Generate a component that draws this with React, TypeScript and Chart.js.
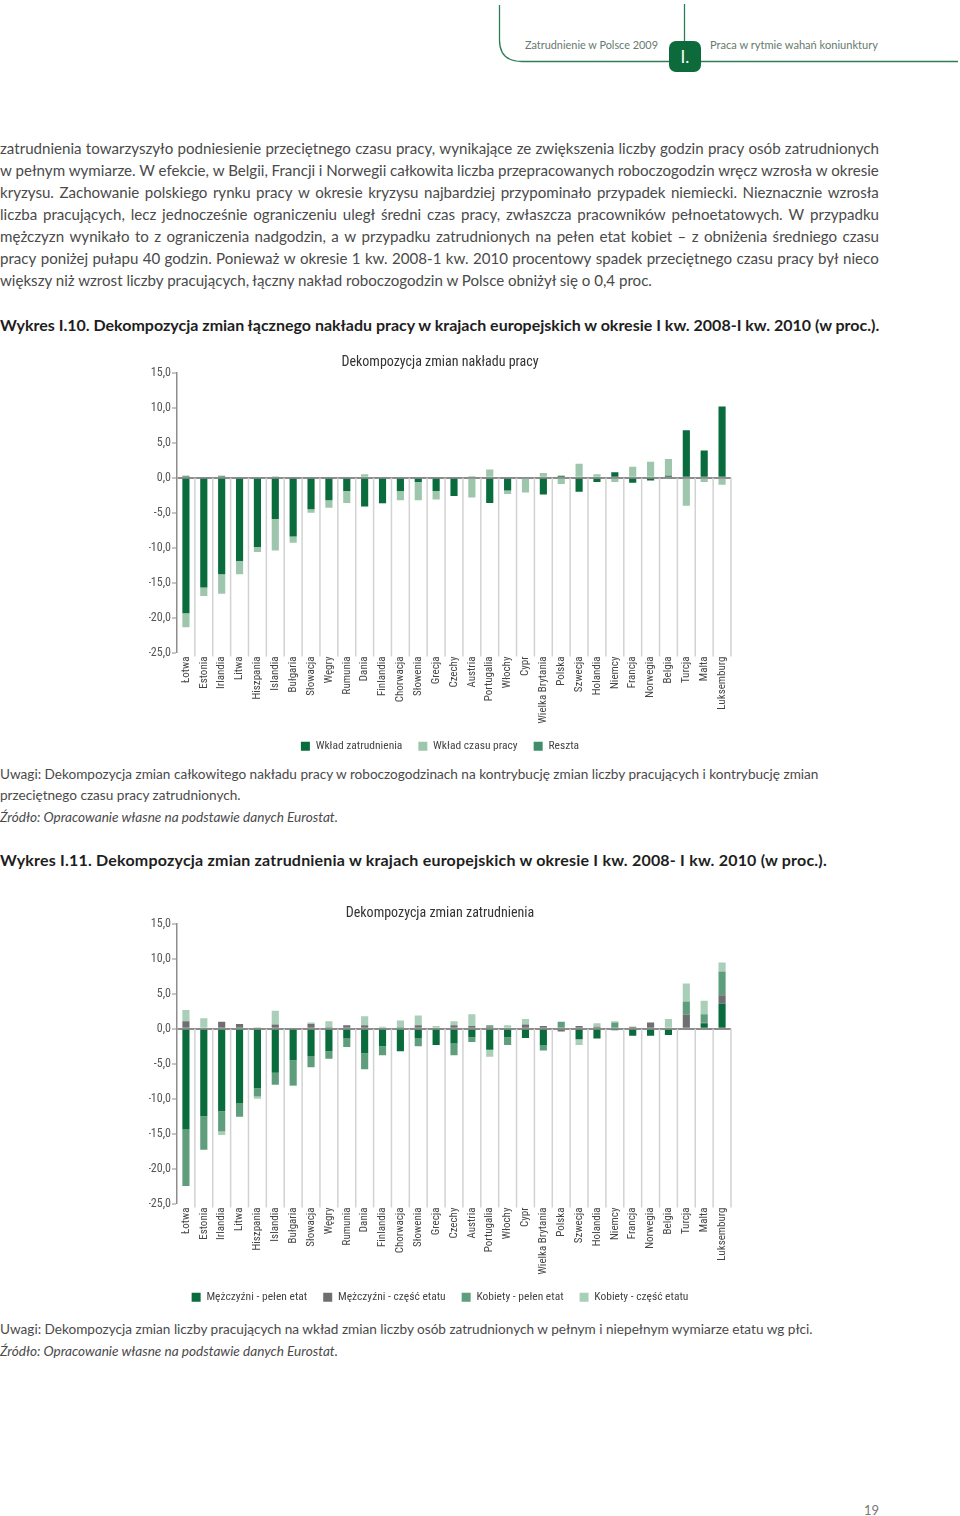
import React, { useEffect, useRef } from 'react';
import { Chart, registerables } from 'chart.js';

Chart.register(...registerables);

const CHART_FONT = "'Roboto Condensed', 'DejaVu Sans Condensed', sans-serif";
const TEXT_FONT = "Lato, 'Open Sans', 'Noto Sans', sans-serif";

// ---------- data ----------
const countries = [
  'Łotwa', 'Estonia', 'Irlandia', 'Litwa', 'Hiszpania', 'Islandia', 'Bułgaria', 'Słowacja', 'Węgry',
  'Rumunia', 'Dania', 'Finlandia', 'Chorwacja', 'Słowenia', 'Grecja', 'Czechy', 'Austria', 'Portugalia',
  'Włochy', 'Cypr', 'Wielka Brytania', 'Polska', 'Szwecja', 'Holandia', 'Niemcy', 'Francja', 'Norwegia',
  'Belgia', 'Turcja', 'Malta', 'Luksemburg',
];

const yAxisMin = -25;
const yAxisMax = 15;
const yAxisStep = 5;

// Wykres I.10
const employmentContribution = [
  -19.4, -15.7, -13.8, -11.9, -9.9, -5.9, -8.4, -4.5, -3.2, -1.9, -4.1, -3.6, -1.9, -0.6, -1.9, -2.6,
  0.1, -3.6, -1.8, 0.0, -2.4, 0.3, -2.0, -0.6, 0.8, -0.7, -0.4, 0.3, 6.8, 3.9, 10.2,
];
const hoursContribution = [
  -2.0, -1.2, -2.8, -1.9, -0.7, -4.5, -0.9, -0.5, -1.1, -1.7, 0.5, -0.1, -1.3, -2.6, -1.2, 0.0,
  -2.8, 1.2, -0.5, -2.1, 0.7, -0.9, 2.0, 0.5, -0.6, 1.6, 2.3, 2.4, -4.0, -0.6, -1.0,
];
const residualContribution = [
  0.3, 0.0, 0.3, 0.0, 0.0, 0.2, 0.0, 0.0, 0.0, 0.0, 0.0, 0.0, 0.0, 0.0, 0.0, 0.0,
  0.0, 0.0, 0.0, 0.0, 0.0, 0.0, 0.0, 0.0, 0.0, 0.0, 0.0, 0.0, 0.0, 0.0, 0.0,
];

// Wykres I.11
const menFullTime = [
  -14.4, -12.5, -11.8, -10.6, -8.5, -6.3, -4.5, -3.9, -3.2, -1.4, -3.5, -2.5, -3.2, -1.3, -2.3, -2.1,
  -1.2, -3.0, -1.2, -1.3, -2.3, 0.0, -1.5, -1.4, -0.2, -1.0, -1.0, -0.9, 0.0, 0.8, 3.6,
];
const menPartTime = [
  1.1, 0.0, 1.0, 0.7, 0.1, 0.6, 0.0, 0.7, 0.1, 0.5, 0.5, 0.0, 0.1, 0.5, 0.0, 0.5,
  0.4, 0.3, 0.0, 0.6, 0.4, -0.4, 0.4, 0.3, 0.0, 0.3, 0.9, 0.0, 2.0, 0.1, 1.2,
];
const womenFullTime = [
  -8.1, -4.8, -2.9, -2.0, -1.2, -1.7, -3.6, -1.6, -1.1, -1.2, -2.3, -1.3, 0.0, -1.2, 0.0, -1.7,
  -0.7, 0.2, -1.1, 0.0, -0.8, 1.0, 0.0, 0.0, 0.9, 0.0, 0.0, 0.0, 1.9, 1.2, 3.4,
];
const womenPartTime = [
  1.6, 1.5, -0.5, 0.0, -0.3, 2.0, -0.1, 0.2, 1.0, 0.0, 1.3, 0.3, 1.1, 1.4, 0.4, 0.6,
  1.7, -1.0, 0.5, 0.8, 0.0, 0.0, -0.8, 0.5, 0.2, 0.0, 0.0, 1.4, 2.6, 1.9, 1.3,
];

const paragraphLines = [
  'zatrudnienia towarzyszyło podniesienie przeciętnego czasu pracy, wynikające ze zwiększenia liczby godzin pracy osób zatrudnionych',
  'w pełnym wymiarze. W efekcie, w Belgii, Francji i Norwegii całkowita liczba przepracowanych roboczogodzin wręcz wzrosła w okresie',
  'kryzysu. Zachowanie polskiego rynku pracy w okresie kryzysu najbardziej przypominało przypadek niemiecki. Nieznacznie wzrosła',
  'liczba pracujących, lecz jednocześnie ograniczeniu uległ średni czas pracy, zwłaszcza pracowników pełnoetatowych. W przypadku',
  'mężczyzn wynikało to z ograniczenia nadgodzin, a w przypadku zatrudnionych na pełen etat kobiet – z obniżenia średniego czasu',
  'pracy poniżej pułapu 40 godzin. Ponieważ w okresie 1 kw. 2008-1 kw. 2010 procentowy spadek przeciętnego czasu pracy był nieco',
  'większy niż wzrost liczby pracujących, łączny nakład roboczogodzin w Polsce obniżył się o 0,4 proc.',
];

// ---------- colours ----------
const DARK_GREEN = '#0a6b3c';
const LIGHT_GREEN = '#9dc6ad';
const MID_GREEN = '#3f8d69';
const GREY = '#6e6f71';
const WOMEN_FULL = '#5f9e7d';
const WOMEN_PART = '#a9cfb9';

const categoryLinesPlugin = {
  id: 'categoryLines',
  beforeDatasetsDraw(chart: any) {
    const { ctx, chartArea, scales } = chart;
    const xs = scales.x;
    const ys = scales.y;
    const n = chart.data.labels.length;
    const step = (xs.right - xs.left) / n;
    const y0 = ys.getPixelForValue(0);
    ctx.save();
    ctx.strokeStyle = '#d2d2d2';
    ctx.lineWidth = 1.5;
    for (let i = 1; i <= n; i++) {
      const px = xs.getPixelForTick(i - 1) + step / 2;
      ctx.beginPath();
      ctx.moveTo(px, y0);
      ctx.lineTo(px, chartArea.bottom + 4);
      ctx.stroke();
    }
    ctx.restore();
  },
};

function bar(label: string, data: number[], color: string) {
  return {
    label,
    data,
    backgroundColor: color,
    borderWidth: 0,
    barPercentage: 0.4,
    categoryPercentage: 1.0,
  };
}

function buildConfig(title: string, datasets: any[]): any {
  return {
    type: 'bar',
    data: { labels: countries, datasets },
    options: {
      responsive: false,
      animation: false,
      layout: { padding: { left: 20, right: 18, top: 0, bottom: 0 } },
      plugins: {
        title: {
          display: true,
          text: title,
          color: '#333333',
          font: { family: CHART_FONT, size: 14, weight: 'normal' },
          padding: { top: 8, bottom: 2.2 },
        },
        legend: {
          position: 'bottom',
          labels: {
            boxWidth: 9,
            boxHeight: 9,
            padding: 16,
            color: '#444444',
            font: { family: CHART_FONT, size: 11.5 },
          },
        },
        tooltip: { enabled: false },
      },
      scales: {
        x: {
          stacked: true,
          grid: { display: false, drawTicks: false },
          border: { display: false },
          ticks: {
            autoSkip: false,
            maxRotation: 90,
            minRotation: 90,
            padding: 4,
            color: '#444444',
            font: { family: CHART_FONT, size: 11 },
          },
          afterFit: (s: any) => {
            s.height = 72;
          },
        },
        y: {
          stacked: true,
          min: yAxisMin,
          max: yAxisMax,
          z: 1,
          ticks: {
            stepSize: yAxisStep,
            padding: 1,
            color: '#555555',
            font: { family: CHART_FONT, size: 12 },
            callback: (v: any) => Number(v).toFixed(1).replace('.', ','),
          },
          grid: {
            color: (c: any) => (c.tick && c.tick.value === 0 ? '#8d8d8d' : 'rgba(0,0,0,0)'),
            lineWidth: (c: any) => (c.tick && c.tick.value === 0 ? 2 : 0),
            tickColor: '#8d8d8d',
            tickLength: 5,
            tickWidth: 1,
          },
          border: { display: true, color: '#8d8d8d', width: 1.5 },
          afterFit: (s: any) => {
            s.width = 28;
          },
        },
      },
    },
    plugins: [categoryLinesPlugin],
  };
}

const CANVAS_W = 620;
const CANVAS_H = 416;

function BarChart({ title, datasets, left, top }: { title: string; datasets: any[]; left: number; top: number }) {
  const ref = useRef<HTMLCanvasElement>(null);
  useEffect(() => {
    const chart = new Chart(ref.current as HTMLCanvasElement, buildConfig(title, datasets));
    return () => chart.destroy();
  }, []);
  return (
    <div style={{ position: 'absolute', left, top, width: CANVAS_W, height: CANVAS_H }}>
      <canvas ref={ref} width={CANVAS_W} height={CANVAS_H} style={{ display: 'block', width: CANVAS_W, height: CANVAS_H }} />
    </div>
  );
}

function Header() {
  const green = '#2f7d58';
  return (
    <svg width={960} height={80} style={{ position: 'absolute', left: 0, top: 0 }}>
      <path d="M499.5 5 V40 Q499.5 61.5 522 61.5 H958" stroke={green} strokeWidth={1.3} fill="none" />
      <line x1={684.5} y1={4} x2={684.5} y2={45} stroke={green} strokeWidth={1.3} />
      <rect x={669} y={41} width={32} height={31} rx={7} fill="#0d6b3b" />
      <text x={685} y={63} fill="#ffffff" fontSize={17} textAnchor="middle" fontFamily={TEXT_FONT}>
        I.
      </text>
      <text x={525} y={49} fontSize={11} fill="#667a6e" fontFamily={TEXT_FONT} textLength={133} lengthAdjust="spacingAndGlyphs">
        Zatrudnienie w Polsce 2009
      </text>
      <text x={710} y={49} fontSize={11} fill="#667a6e" fontFamily={TEXT_FONT} textLength={168} lengthAdjust="spacingAndGlyphs">
        Praca w rytmie wahań koniunktury
      </text>
    </svg>
  );
}

const textColor = '#4a4a4a';

function Line({ top, children, size = 14, italic = false, bold = false, color = textColor, spacing = 0 }: any) {
  return (
    <div
      style={{
        position: 'absolute',
        left: 0,
        top,
        width: 900,
        fontSize: size,
        lineHeight: '22px',
        color,
        fontStyle: italic ? 'italic' : 'normal',
        fontWeight: bold ? 700 : 400,
        letterSpacing: spacing,
        whiteSpace: 'nowrap',
      }}
    >
      {children}
    </div>
  );
}

function ParagraphLine({ text, top, justify }: { text: string; top: number; justify: boolean }) {
  const base: any = {
    position: 'absolute',
    left: 0,
    top,
    width: 879,
    fontSize: 15.1,
    lineHeight: '22px',
    color: textColor,
    whiteSpace: 'nowrap',
  };
  if (!justify) return <div style={base}>{text}</div>;
  const words = text.split(' ');
  return (
    <div style={{ ...base, display: 'flex', justifyContent: 'space-between' }}>
      {words.map((w, j) => (
        <React.Fragment key={j}>
          {j > 0 ? ' ' : null}
          <span>{w}</span>
        </React.Fragment>
      ))}
    </div>
  );
}

export default function App() {
  return (
    <div
      style={{
        position: 'absolute',
        left: 0,
        top: 0,
        width: 960,
        height: 1516,
        background: '#ffffff',
        overflow: 'hidden',
        fontFamily: TEXT_FONT,
      }}
    >
      <Header />
      {paragraphLines.map((l, i) => (
        <ParagraphLine key={i} text={l} top={137 + i * 22} justify={i < paragraphLines.length - 1} />
      ))}
      <Line top={314} size={16} bold color="#1e1e1e">
        Wykres I.10. Dekompozycja zmian łącznego nakładu pracy w krajach europejskich w okresie I kw. 2008-I kw. 2010 (w proc.).
      </Line>
      <BarChart
        title="Dekompozycja zmian nakładu pracy"
        left={129}
        top={346}
        datasets={[
          bar('Wkład zatrudnienia', employmentContribution, DARK_GREEN),
          bar('Wkład czasu pracy', hoursContribution, LIGHT_GREEN),
          bar('Reszta', residualContribution, MID_GREEN),
        ]}
      />
      <Line top={763} size={13.6}>
        Uwagi: Dekompozycja zmian całkowitego nakładu pracy w roboczogodzinach na kontrybucję zmian liczby pracujących i kontrybucję zmian
      </Line>
      <Line top={784} size={13.6}>
        przeciętnego czasu pracy zatrudnionych.
      </Line>
      <Line top={806} size={13.6} italic>
        Źródło: Opracowanie własne na podstawie danych Eurostat.
      </Line>
      <Line top={849} size={16} bold color="#1e1e1e" spacing={0.2}>
        Wykres I.11. Dekompozycja zmian zatrudnienia w krajach europejskich w okresie I kw. 2008- I kw. 2010 (w proc.).
      </Line>
      <BarChart
        title="Dekompozycja zmian zatrudnienia"
        left={129}
        top={897}
        datasets={[
          bar('Mężczyźni - pełen etat', menFullTime, DARK_GREEN),
          bar('Mężczyźni - część etatu', menPartTime, GREY),
          bar('Kobiety - pełen etat', womenFullTime, WOMEN_FULL),
          bar('Kobiety - część etatu', womenPartTime, WOMEN_PART),
        ]}
      />
      <Line top={1318} size={13.6}>
        Uwagi: Dekompozycja zmian liczby pracujących na wkład zmian liczby osób zatrudnionych w pełnym i niepełnym wymiarze etatu wg płci.
      </Line>
      <Line top={1340} size={13.6} italic>
        Źródło: Opracowanie własne na podstawie danych Eurostat.
      </Line>
      <div style={{ position: 'absolute', left: 864, top: 1501, fontSize: 13, lineHeight: '18px', color: '#777777' }}>19</div>
    </div>
  );
}
